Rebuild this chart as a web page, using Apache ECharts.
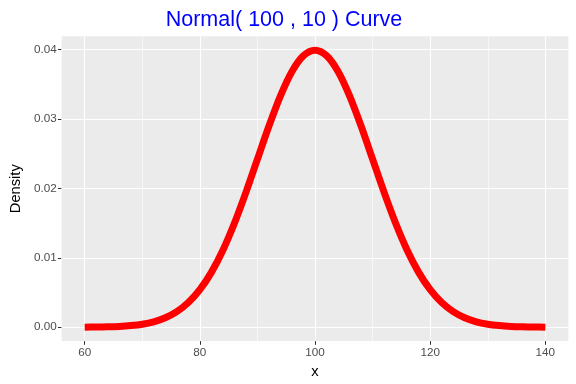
<!DOCTYPE html>
<html><head><meta charset="utf-8">
<script src="https://cdn.jsdelivr.net/npm/echarts@6/dist/echarts.min.js"></script>
<style>html,body{margin:0;padding:0;background:#fff}#c{width:576px;height:384px}</style>
</head><body><div id="c"></div>
<script>
const xValues = [60,62,64,66,68,70,72,74,76,78,80,82,84,86,88,90,92,94,96,98,100,102,104,106,108,110,112,114,116,118,120,122,124,126,128,130,132,134,136,138,140];
const densityValues = [0.00001,0.00003,0.00006,0.00012,0.00024,0.00044,0.00079,0.00136,0.00224,0.00355,0.00540,0.00790,0.01109,0.01497,0.01942,0.02420,0.02897,0.03332,0.03683,0.03910,0.03989,0.03910,0.03683,0.03332,0.02897,0.02420,0.01942,0.01497,0.01109,0.00790,0.00540,0.00355,0.00224,0.00136,0.00079,0.00044,0.00024,0.00012,0.00006,0.00003,0.00001];
const xTicks = [60,80,100,120,140];
const xMinor = [70,90,110,130];
const yTicks = [0,0.01,0.02,0.03,0.04];
const yMinor = [0.005,0.015,0.025,0.035];
const titleText = 'Normal( 100 , 10 ) Curve';

const FONT = '"Liberation Sans", Arial, sans-serif';
const chart = echarts.init(document.getElementById('c'), null, {renderer:'canvas'});
const major = {color: '#FFFFFF', width: 1.1, type: 'solid'};
const minor = {color: '#FFFFFF', width: 0.55, type: 'solid'};
const gridLines = []
  .concat(xMinor.map(v => ({xAxis: v, lineStyle: minor})))
  .concat(yMinor.map(v => ({yAxis: v, lineStyle: minor})))
  .concat(xTicks.map(v => ({xAxis: v, lineStyle: major})))
  .concat(yTicks.map(v => ({yAxis: v, lineStyle: major})));
chart.setOption({
  animation: false,
  title: {text: titleText, left: 279, top: 4, textAlign: 'center',
    textStyle: {color: '#0000FF', fontSize: 21.5, fontWeight: 'normal', fontFamily: FONT}},
  grid: {left: 57.8, right: 7.6, top: 36.3, bottom: 40.3, show: true, backgroundColor: '#EBEBEB', borderWidth: 0, containLabel: false},
  xAxis: {type: 'value', min: 56, max: 144, name: 'x', nameLocation: 'middle', nameGap: 22,
    nameTextStyle: {color: '#000', fontSize: 14.7, fontFamily: FONT},
    axisLine: {show: false, onZero: false},
    axisTick: {show: true, length: 3.7, customValues: xTicks, lineStyle: {color: '#333333', width: 1}},
    axisLabel: {customValues: xTicks, color: '#4D4D4D', fontSize: 11.7, fontFamily: FONT, margin: 6},
    splitLine: {show: false}},
  yAxis: {type: 'value', min: -0.0019947, max: 0.0418874, name: 'Density', nameLocation: 'middle', nameGap: 38,
    nameTextStyle: {color: '#000', fontSize: 14.7, fontFamily: FONT},
    axisLine: {show: false, onZero: false},
    axisTick: {show: true, length: 3.7, customValues: yTicks, lineStyle: {color: '#333333', width: 1}},
    axisLabel: {customValues: yTicks, color: '#4D4D4D', fontSize: 11.7, fontFamily: FONT, margin: 5,
      formatter: v => v.toFixed(2)},
    splitLine: {show: false}},
  series: [
    {type: 'line', data: [], z: 1, silent: true,
     markLine: {silent: true, symbol: 'none', label: {show: false}, animation: false, data: gridLines}},
    {type: 'line', z: 5, data: xValues.map((x, i) => [x, densityValues[i]]),
     showSymbol: false, smooth: 0.3,
     lineStyle: {color: '#FF0000', width: 7, cap: 'butt', join: 'round'}}
  ]
});
</script></body></html>
